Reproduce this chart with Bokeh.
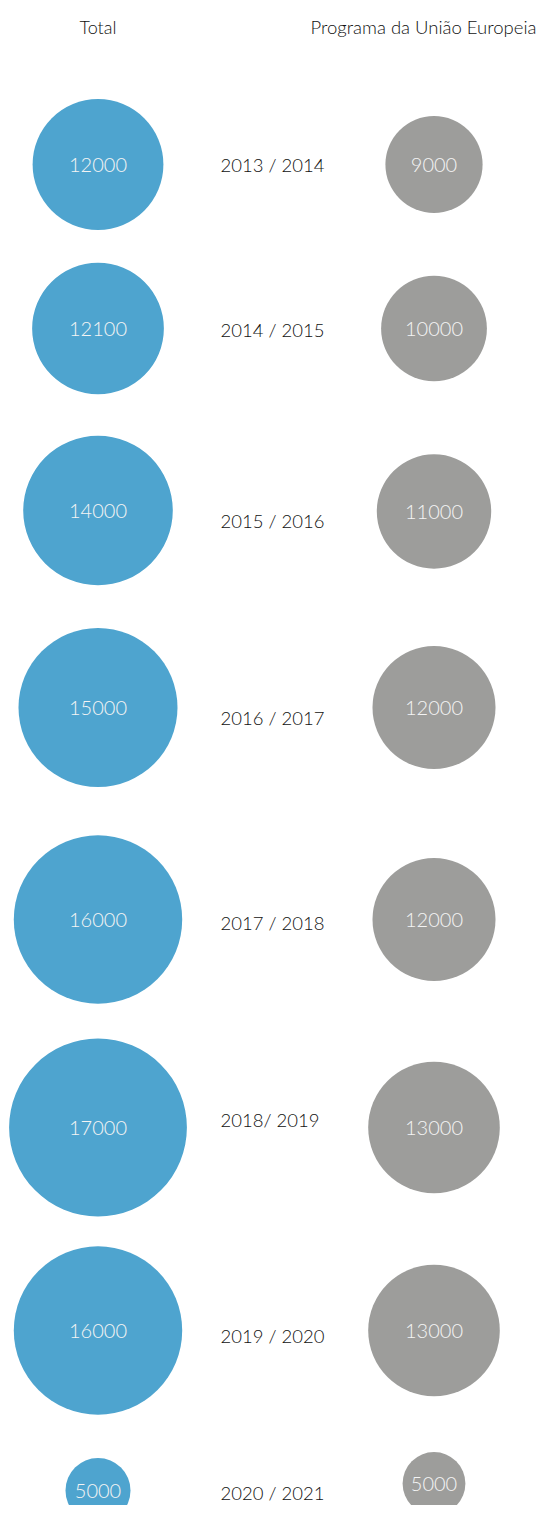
from bokeh.plotting import figure
from bokeh.models import Range1d, ColumnDataSource
from bokeh.core.properties import value
from bokeh.embed import file_html
from bokeh.resources import INLINE

# ---- data ----
periods = ["2013 / 2014", "2014 / 2015", "2015 / 2016", "2016 / 2017",
           "2017 / 2018", "2018/ 2019", "2019 / 2020", "2020 / 2021"]
total = [12000, 12100, 14000, 15000, 16000, 17000, 16000, 5000]
eu_programme = [9000, 10000, 11000, 12000, 12000, 13000, 13000, 5000]
series_names = ["Total", "Programa da União Europeia"]

# ---- layout (pixels inside the figure) ----
W, H = 537, 1505
col_x = {"Total": 97.5, "Programa da União Europeia": 433.5}
label_x = 220
row_y_total = [164, 328, 510, 707, 919, 1127, 1330, 1490]
row_y_eu = [164, 328, 511, 707, 919, 1127, 1330, 1483]
label_y = [164, 329, 520, 717, 922, 1119, 1335, 1492]
header_y = 26

BLUE = "#4ea4cf"
GREY = "#9d9d9b"
FONT = value("Lato Light")


def radius(v, a, b):
    return a + b * v


p = figure(width=W, height=H, x_range=Range1d(0, W), y_range=Range1d(H, 0),
           output_backend="svg", toolbar_location=None, min_border=0,
           background_fill_color="white", border_fill_color="white")
p.axis.visible = False
p.grid.visible = False
p.outline_line_color = None

src_t = ColumnDataSource(dict(
    x=[col_x["Total"]] * len(total), y=row_y_total,
    size=[2 * radius(v, 9.0, 0.0047) for v in total],
    txt=[str(v) for v in total]))
src_e = ColumnDataSource(dict(
    x=[col_x["Programa da União Europeia"]] * len(eu_programme), y=row_y_eu,
    size=[2 * radius(v, 9.9, 0.0043) for v in eu_programme],
    txt=[str(v) for v in eu_programme]))

p.scatter("x", "y", size="size", source=src_t, marker="circle",
          fill_color=BLUE, line_color=None)
p.scatter("x", "y", size="size", source=src_e, marker="circle",
          fill_color=GREY, line_color=None)

for src in (src_t, src_e):
    p.text("x", "y", text="txt", source=src, text_align="center",
           text_baseline="middle", text_color="#f4f4f4",
           text_font_size="20px", text_font=FONT)

p.text(x=[label_x] * len(periods), y=label_y, text=periods,
       text_align="left", text_baseline="middle", text_color="#111111",
       text_font_size="18.5px", text_font=FONT)

p.text(x=[col_x["Total"]], y=[header_y], text=[series_names[0]],
       text_align="center", text_baseline="middle",
       text_color="#111111", text_font_size="18px", text_font=FONT)
p.text(x=[W - 1], y=[header_y], text=[series_names[1]],
       text_align="right", text_baseline="middle",
       text_color="#111111", text_font_size="18.5px", text_font=FONT)

open("out.html", "w").write(file_html(p, INLINE))
